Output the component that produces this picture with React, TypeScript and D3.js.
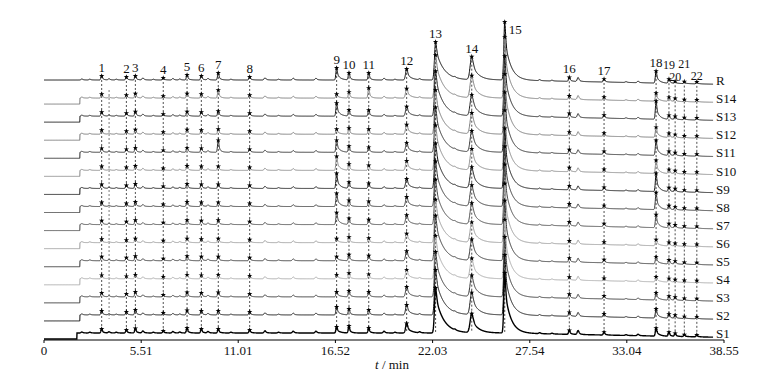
import React from "react";
import * as d3 from "d3";

// ---- data ----
const traceNames = ["S1", "S2", "S3", "S4", "S5", "S6", "S7", "S8", "S9", "S10", "S11", "S12", "S13", "S14", "R"];
const peakLabels = ["1","2","3","4","5","6","7","8","9","10","11","12","13","14","15","16","17","18","19","20","21","22"];
const peakTimes = [3.27, 4.67, 5.18, 6.76, 8.11, 8.92, 9.88, 11.66, 16.59, 17.29, 18.41, 20.56, 22.2, 24.25, 26.12, 29.78, 31.75, 34.7, 35.43, 35.78, 36.3, 37.01];
// peak heights (mAU) per trace, order follows traceNames
const S1 = [40, 30, 45, 20, 50, 40, 40, 30, 60, 70, 50, 95, 450, 190, 600, 40, 30, 80, 40, 30, 20, 20];
const S2 = [40, 30, 50, 20, 45, 40, 40, 30, 80, 60, 50, 100, 450, 220, 600, 40, 30, 90, 40, 30, 20, 20];
const S3 = [40, 30, 50, 20, 45, 40, 45, 30, 50, 60, 50, 100, 450, 210, 600, 40, 30, 70, 40, 30, 20, 20];
const S4 = [35, 25, 40, 20, 40, 35, 40, 30, 40, 55, 45, 90, 430, 200, 590, 30, 25, 50, 35, 25, 20, 20];
const S5 = [40, 30, 45, 20, 45, 40, 40, 30, 40, 60, 50, 95, 450, 210, 600, 40, 30, 70, 40, 30, 20, 20];
const S6 = [35, 25, 40, 20, 40, 35, 40, 30, 40, 55, 45, 90, 430, 200, 590, 30, 25, 60, 35, 25, 20, 20];
const S7 = [40, 30, 45, 20, 45, 40, 45, 30, 120, 60, 50, 95, 450, 210, 600, 40, 30, 130, 40, 30, 20, 20];
const S8 = [40, 30, 45, 20, 45, 40, 40, 30, 130, 60, 50, 95, 450, 210, 600, 40, 30, 170, 40, 30, 20, 20];
const S9 = [40, 30, 45, 20, 45, 40, 40, 30, 150, 60, 50, 95, 450, 210, 600, 40, 30, 180, 40, 30, 20, 20];
const S10 = [40, 30, 45, 20, 45, 40, 40, 30, 140, 60, 50, 95, 450, 210, 600, 40, 30, 130, 40, 30, 20, 20];
const S11 = [40, 30, 45, 20, 45, 40, 120, 30, 120, 60, 50, 95, 450, 210, 600, 40, 30, 150, 40, 30, 20, 20];
const S12 = [40, 30, 45, 20, 45, 40, 50, 30, 50, 60, 50, 95, 440, 210, 600, 35, 30, 100, 40, 30, 20, 20];
const S13 = [40, 30, 45, 20, 45, 40, 50, 30, 130, 60, 60, 95, 450, 210, 600, 40, 30, 180, 40, 30, 20, 20];
const S14 = [40, 30, 45, 20, 45, 40, 80, 30, 40, 60, 100, 95, 430, 220, 610, 35, 30, 80, 40, 30, 20, 20];
const R = [40, 30, 40, 20, 50, 40, 70, 30, 120, 70, 70, 110, 380, 230, 580, 40, 30, 120, 40, 20, 20, 20];
const peakHeights = [S1, S2, S3, S4, S5, S6, S7, S8, S9, S10, S11, S12, S13, S14, R];
// unlabeled minor peaks
const minorTimes = [2.15, 2.6, 3.69, 4.1, 5.61, 6.2, 7.31, 7.7, 9.3, 10.6, 12.53, 13.3, 14.13, 15.42, 19.28, 19.9, 21.3, 23.3, 28.1, 28.8, 30.28, 33.0, 33.68];
const minorHeights = [10, 8, 12, 8, 20, 8, 15, 10, 15, 8, 22, 8, 18, 18, 18, 8, 10, 8, 10, 8, 40, 8, 15];
const axisTicks = [0, 5.51, 11.01, 16.52, 22.03, 27.54, 33.04, 38.55];

// ---- styling / layout ----
const W = 773, H = 380;
const traceColors = ["#000", "#111", "#333", "#aaa", "#333", "#999", "#444", "#333", "#111", "#888", "#2a2a2a", "#777", "#1a1a1a", "#7a7a7a", "#000"];
const labelLift = peakLabels.map((l) =>
  l === "19" ? 14 : l === "20" ? 4 : l === "21" ? 18 : l === "22" ? 6 : 8
);

function shape(i: number): [number, number, number] {
  // sigma, tail fraction, tail tau
  if (i === 12) return [0.06, 0.82, 0.45];
  if (i === 13) return [0.09, 0.7, 0.35];
  if (i === 14) return [0.05, 0.72, 0.33];
  if (i === 11) return [0.06, 0.6, 0.25];
  if (i === 8 || i === 17) return [0.04, 0.6, 0.18];
  return [0.04, 0.5, 0.12];
}
function pk(t: number, t0: number, h: number, s: number, a: number, tau: number) {
  const dt = t - t0;
  if (dt < 0) return h * Math.exp((-dt * dt) / (2 * s * s));
  return h * ((1 - a) * Math.exp((-dt * dt) / (2 * s * s)) + a * Math.exp(-dt / tau));
}

export default function App() {
  const x = d3.scaleLinear().domain([0, 38.55]).range([44, 724]);
  const yAmp = d3.scaleLinear().domain([0, 1000]).range([0, 100]);
  const baseY = d3.scaleLinear().domain([0, 14]).range([333, 80]);
  const tEnd = 37.93;
  const ts = d3.range(0, tEnd + 0.001, 0.01);

  const signal = (ti: number, t: number) => {
    let v = 0;
    const hs = peakHeights[ti];
    for (let i = 0; i < peakTimes.length; i++) {
      if (Math.abs(t - peakTimes[i]) > 4) continue;
      const [s, a, tau] = shape(i);
      v += pk(t, peakTimes[i], hs[i], s, a, tau);
    }
    for (let i = 0; i < minorTimes.length; i++) {
      if (Math.abs(t - minorTimes[i]) > 2) continue;
      v += pk(t, minorTimes[i], minorHeights[i], 0.05, 0.5, 0.12);
    }
    v -= Math.max(0, t - 26) * 3.5;
    const isR = traceNames[ti] === "R";
    const stepT = ti === 0 ? 1.87 : 2.04;
    if (!isR && t < stepT) v = -60;
    return v;
  };

  const yOf = (ti: number, t: number) => baseY(ti) - yAmp(signal(ti, t));
  const line = d3.line<number>().x((t) => x(t));

  const rIdx = traceNames.length - 1;
  const font = "'Liberation Serif', 'Times New Roman', serif";

  return (
    <svg width={W} height={H} style={{ position: "absolute", left: 0, top: 0, background: "#fff" }} fontFamily={font}>
      {/* dashed guide lines */}
      {peakTimes.map((t, i) => (
        <line key={"d" + i} x1={x(t)} x2={x(t)} y1={yOf(rIdx, t)} y2={baseY(0) - 1}
          stroke="#222" strokeWidth={0.8} strokeDasharray="2,2" />
      ))}
      <line x1={x(minorTimes[2])} x2={x(minorTimes[2])} y1={90} y2={baseY(1) + 4} stroke="#444" strokeWidth={0.7} strokeDasharray="2,2" />
      {/* traces */}
      {traceNames.map((name, ti) => {
        const ti2 = rIdx - ti;
        const gen = line.y((t) => yOf(ti2, t));
        return (
          <path key={name} d={gen(ts) || ""} fill="none" stroke={traceColors[ti2]}
            strokeWidth={ti2 === 0 ? 1.4 : 1} />
        );
      })}
      {/* markers */}
      {traceNames.map((name, ti) =>
        peakTimes.map((t, i) => (
          <path key={name + i} d={d3.symbol(d3.symbolStar, 9)() || ""}
            transform={`translate(${x(t)},${yOf(ti, t)})`} fill="#000" />
        ))
      )}
      {/* trace names */}
      {traceNames.map((name, ti) => (
        <text key={"n" + name} x={716} y={yOf(ti, tEnd) + 1} fontSize={13} fill="#111">{name}</text>
      ))}
      {/* peak labels */}
      {peakLabels.map((lab, i) => {
        const t = peakTimes[i];
        const py = yOf(rIdx, t);
        const isBig = lab === "15";
        const small = i >= 18;
        return (
          <text key={"l" + lab} x={isBig ? x(t) + 4 : x(t)} y={isBig ? py + 12 : py - labelLift[i] + 4}
            fontSize={small ? 12 : 13} textAnchor={isBig ? "start" : "middle"} fill="#111">{lab}</text>
        );
      })}
      {/* axis */}
      <line x1={x(0)} x2={x(38.55)} y1={340} y2={340} stroke="#000" strokeWidth={1} />
      {axisTicks.map((v) => (
        <g key={"t" + v}>
          <line x1={x(v)} x2={x(v)} y1={340} y2={343} stroke="#000" />
          <text x={x(v)} y={355} fontSize={13} textAnchor="middle" fill="#111">{v === 0 ? "0" : v.toFixed(2)}</text>
        </g>
      ))}
      <text x={392} y={369} fontSize={13} textAnchor="middle" fill="#111">
        <tspan fontStyle="italic">t</tspan> / min
      </text>
    </svg>
  );
}
